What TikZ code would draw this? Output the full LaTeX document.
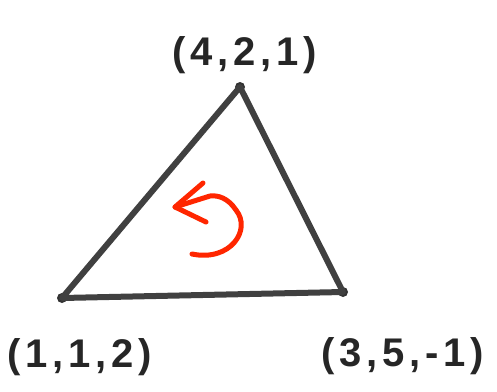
\documentclass[tikz,border=0pt]{standalone}
\usepackage{fontspec}
\setmainfont{Liberation Sans}[LetterSpace=12]
\usetikzlibrary{arrows.meta}
\begin{document}
\begin{tikzpicture}[x=1pt,y=-1pt,
  edge/.style={line width=6pt, draw=black!75, line cap=round, line join=round},
  vert/.style={circle, fill=black!80, inner sep=0pt, minimum size=10pt},
  lbl/.style={font=\fontsize{40}{42}\selectfont\bfseries, text=black!85, inner sep=0pt},
  rot/.style={line width=5pt, draw=red!70!orange, line cap=round, line join=round}]
\useasboundingbox (0,0) rectangle (497,391);
\node[vert] (a) at (240,87) {};
\node[vert] (b) at (62,298) {};
\node[vert] (c) at (343,292) {};
\draw[edge] (a.center) -- (b.center) -- (c.center) -- cycle;
\node[lbl] (la) at (245,55) {(4,2,1)};
\node[lbl] (lb) at (80,357) {(1,1,2)};
\node[lbl] (lc) at (403,356) {(3,5,-1)};
\coordinate (s) at (192,254);
\coordinate (t) at (210,196);
\coordinate (tip) at (175,207);
\draw[rot] (s) .. controls (230,262) and (252,230) .. (236,210)
  .. controls (228,198) and (218,195) .. (t) -- (tip);
\draw[rot] (203,183) -- (tip) -- (206,222);
\end{tikzpicture}
\end{document}
